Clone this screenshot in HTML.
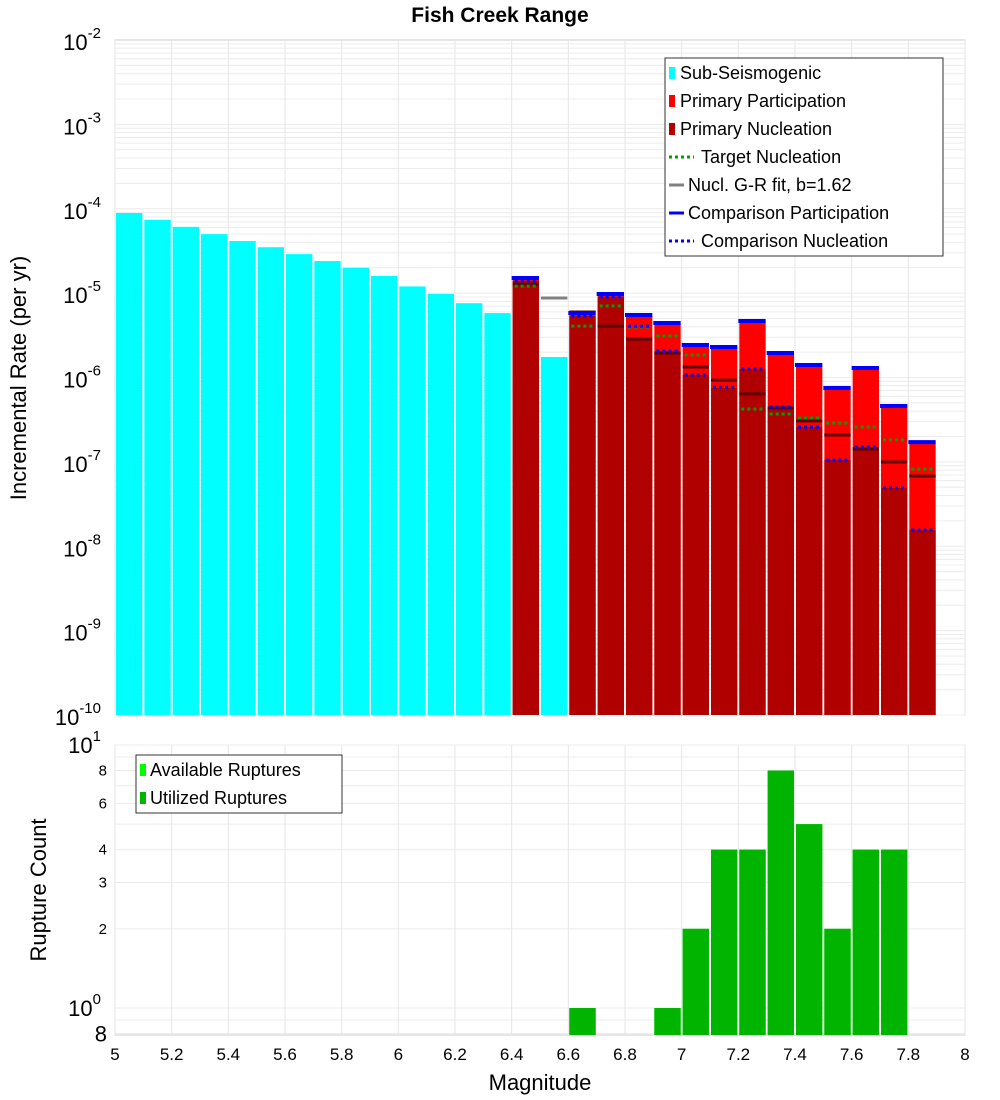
<!DOCTYPE html>
<html><head><meta charset="utf-8"><style>
body{margin:0;background:#fff;}
svg{display:block;font-family:"Liberation Sans","DejaVu Sans",sans-serif;}
</style></head><body>
<svg id="chart" width="1000" height="1100" xmlns="http://www.w3.org/2000/svg">
<text x="500" y="22" text-anchor="middle" font-size="21" font-weight="bold">Fish Creek Range</text>
<g id="top"></g>
<g id="bot"></g>
<text transform="translate(26,378) rotate(-90)" text-anchor="middle" font-size="22">Incremental Rate (per yr)</text>
<text transform="translate(46,890) rotate(-90)" text-anchor="middle" font-size="22">Rupture Count</text>
<text x="540" y="1090" text-anchor="middle" font-size="22">Magnitude</text>
</svg>
<script>
const subMags=[5.05,5.15,5.25,5.35,5.45,5.55,5.65,5.75,5.85,5.95,6.05,6.15,6.25,6.35,6.55];
const subRates=[8.9e-5,7.4e-5,6.1e-5,5.0e-5,4.15e-5,3.5e-5,2.9e-5,2.4e-5,2.0e-5,1.6e-5,1.2e-5,9.8e-6,7.6e-6,5.8e-6,1.75e-6];
const primMags=[6.45,6.65,6.75,6.85,6.95,7.05,7.15,7.25,7.35,7.45,7.55,7.65,7.75,7.85];
const primPart=[1.47e-5,5.66e-6,9.5e-6,5.36e-6,4.31e-6,2.36e-6,2.24e-6,4.55e-6,1.90e-6,1.37e-6,7.3e-7,1.26e-6,4.47e-7,1.67e-7];
const primNucl=[1.39e-5,5.36e-6,9.0e-6,2.86e-6,1.95e-6,1.07e-6,7.5e-7,1.26e-6,4.47e-7,2.59e-7,1.05e-7,1.50e-7,4.9e-8,1.56e-8];
const targetNucl=[1.21e-5,4.07e-6,7.03e-6,3.97e-6,3.10e-6,1.85e-6,7.7e-7,4.24e-7,3.69e-7,3.31e-7,2.89e-7,2.59e-7,1.82e-7,8.2e-8];
const grMags=[6.45,6.55,6.65,6.75,6.85,6.95,7.05,7.15,7.25,7.35,7.45,7.55,7.65,7.75,7.85];
const grRates=[1.28e-5,8.75e-6,5.97e-6,4.07e-6,2.86e-6,1.95e-6,1.33e-6,9.3e-7,6.4e-7,4.35e-7,3.05e-7,2.08e-7,1.42e-7,9.97e-8,6.8e-8];
const compPart=[1.47e-5,5.66e-6,9.5e-6,5.36e-6,4.31e-6,2.36e-6,2.24e-6,4.55e-6,1.90e-6,1.37e-6,7.3e-7,1.26e-6,4.47e-7,1.67e-7];
const compNucl=[1.39e-5,5.36e-6,9.0e-6,4.07e-6,2.06e-6,1.07e-6,7.7e-7,1.26e-6,4.47e-7,2.59e-7,1.05e-7,1.50e-7,4.9e-8,1.56e-8];
const cntMags=[6.65,6.95,7.05,7.15,7.25,7.35,7.45,7.55,7.65,7.75];
const cntVals=[1,1,2,4,4,8,5,2,4,4];
const xTicks=[5,5.2,5.4,5.6,5.8,6,6.2,6.4,6.6,6.8,7,7.2,7.4,7.6,7.8,8];
const topExps=[-2,-3,-4,-5,-6,-7,-8,-9,-10];
const botTicks=[10,8,6,4,3,2,1,0.8];
const botLabels=["10|1","8","6","4","3","2","10|0","8"];

const NS="http://www.w3.org/2000/svg";
const X0=115,X1=965,T0=40,T1=715,B0=745,B1=1035;
const xs=m=>X0+(m-5)/3*(X1-X0);
const yT=v=>T0+(-2-Math.log10(v))*(T1-T0)/8;
const yB=v=>B0+(1-Math.log10(v))*263;
const bw=(X1-X0)/30;
function mk(p,tag,a){const e=document.createElementNS(NS,tag);for(const k in a)e.setAttribute(k,a[k]);p.appendChild(e);return e;}
const topG=document.getElementById('top'),botG=document.getElementById('bot');

mk(topG,'rect',{x:X0,y:T0,width:X1-X0,height:T1-T0,fill:'#fff',stroke:'#ccc'});
mk(botG,'rect',{x:X0,y:B0,width:X1-X0,height:B1-B0,fill:'#fff',stroke:'#ccc'});
for(let e=-10;e<-2;e++)for(let k=1;k<10;k++){const y=yT(k*Math.pow(10,e));
 const g=mk(topG,'line',{x1:X0,x2:X1,y1:y,y2:y,stroke:'#ececec','stroke-width':1});
 }
for(const v of [0.8,0.9,1,2,3,4,5,6,7,8,9,10]){const y=yB(v);mk(botG,'line',{x1:X0,x2:X1,y1:y,y2:y,stroke:'#ececec'});}
for(const t of xTicks){const x=xs(t);mk(topG,'line',{x1:x,x2:x,y1:T0,y2:T1,stroke:'#e6e6e6'});mk(botG,'line',{x1:x,x2:x,y1:B0,y2:B1,stroke:'#e6e6e6'});}

topExps.forEach(e=>{const y=yT(Math.pow(10,e));
 const t=mk(topG,'text',{x:101,y:y+10,'text-anchor':'end','font-size':22});
 
 t.textContent='10';const s=mk(t,'tspan',{dy:-12,'font-size':15});s.textContent=String(e);
});
botTicks.forEach((v,i)=>{const y=yB(v);const L=botLabels[i].split('|');
 const big=L.length>1||i===botTicks.length-1;
 const t=mk(botG,'text',{x:L.length>1?101:107,y:y+(big?8:5),'text-anchor':'end','font-size':big?22:15});
 
 t.textContent=L[0];if(L.length>1){const s=mk(t,'tspan',{dy:-12,'font-size':15});s.textContent=L[1];}
});
xTicks.forEach(m=>{const t=mk(botG,'text',{x:xs(m),y:1060,'text-anchor':'middle','font-size':17});
 t.textContent=String(m);});

subMags.forEach((m,i)=>{const y=yT(subRates[i]);
 const r=mk(topG,'rect',{x:xs(m)-bw/2+1,y:y,width:bw-2,height:T1-y,fill:'#00ffff'});
 });
primMags.forEach((m,i)=>{const x=xs(m)-bw/2+1;
 let y=yT(primPart[i]);
 const r=mk(topG,'rect',{x:x,y:y,width:bw-2,height:T1-y,fill:'#ff0000'});
 
 y=yT(primNucl[i]);
 const n=mk(topG,'rect',{x:x,y:y,width:bw-2,height:T1-y,fill:'#b00000'});
 
});
grMags.forEach((m,i)=>{const y=yT(grRates[i]);
 const l=mk(topG,'line',{x1:xs(m)-bw/2+1,x2:xs(m)+bw/2-1,y1:y,y2:y,stroke:i===1?'#808080':'#600000','stroke-width':3});
 });
primMags.forEach((m,i)=>{const x1=xs(m)-bw/2+3,x2=xs(m)+bw/2-3;
 let y=yT(targetNucl[i]);
 const g=mk(topG,'line',{x1:x1,x2:x2,y1:y,y2:y,stroke:'#00a000','stroke-width':3,'stroke-dasharray':'3,3'});
 
 y=yT(compNucl[i]);
 const b=mk(topG,'line',{x1:x1,x2:x2,y1:y,y2:y,stroke:'#0000ff','stroke-width':3,'stroke-dasharray':'3,3'});
 
 y=yT(compPart[i]);
 const c=mk(topG,'line',{x1:xs(m)-bw/2,x2:xs(m)+bw/2-1,y1:y-1,y2:y-1,stroke:'#0000ff','stroke-width':4});
 
});

const lg=mk(topG,'g',{});
mk(lg,'rect',{x:665,y:58,width:278,height:198,fill:'#fff',stroke:'#333'});
const items=[['Sub-Seismogenic','box','#00ffff'],['Primary Participation','box','#ff0000'],['Primary Nucleation','box','#b00000'],['Target Nucleation','dash','#00a000'],['Nucl. G-R fit, b=1.62','line','#808080'],['Comparison Participation','line','#0000ff'],['Comparison Nucleation','dash','#0000ff']];
items.forEach((it,i)=>{const y=73+i*28;const g=mk(lg,'g',{});
 
 let tx=680;
 if(it[1]==='box')mk(g,'rect',{x:669,y:y-6,width:6,height:12,fill:it[2]});
 else if(it[1]==='line'){mk(g,'line',{x1:669,x2:684,y1:y,y2:y,stroke:it[2],'stroke-width':3});tx=688;}
 else {mk(g,'line',{x1:669,x2:694,y1:y,y2:y,stroke:it[2],'stroke-width':3,'stroke-dasharray':'3,3'});tx=701;}
 const t=mk(g,'text',{x:tx,y:y+6,'font-size':18});t.textContent=it[0];});

cntMags.forEach((m,i)=>{const y=yB(cntVals[i]);
 const a=mk(botG,'rect',{x:xs(m)-bw/2+1,y:y,width:bw-2,height:B1-y,fill:'#00ff00'});
 
 const r=mk(botG,'rect',{x:xs(m)-bw/2+1,y:y,width:bw-2,height:B1-y,fill:'#00b400'});
 });
const lg2=mk(botG,'g',{});
mk(lg2,'rect',{x:136,y:755,width:206,height:58,fill:'#fff',stroke:'#333'});
[['Available Ruptures','#00ff00'],['Utilized Ruptures','#00b400']].forEach((it,i)=>{const y=770+i*28;
 const g=mk(lg2,'g',{});
 mk(g,'rect',{x:140,y:y-6,width:6,height:12,fill:it[1]});
 const t=mk(g,'text',{x:150,y:y+6,'font-size':18});t.textContent=it[0];});
</script>
</body></html>
